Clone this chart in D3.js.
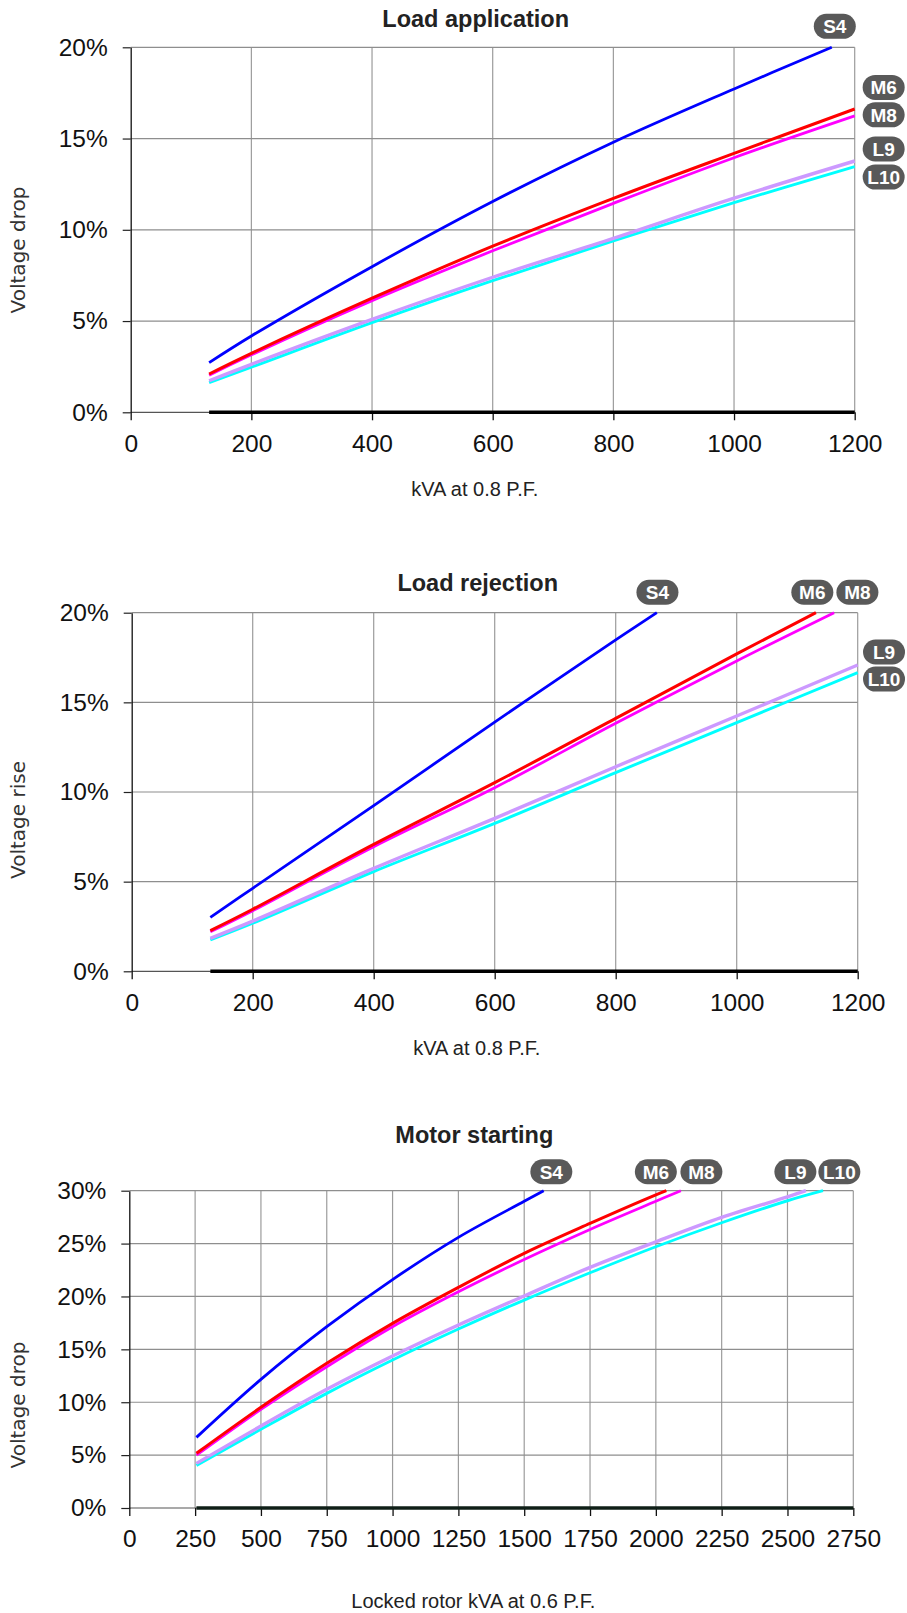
<!DOCTYPE html>
<html>
<head>
<meta charset="utf-8">
<script src="https://cdn.jsdelivr.net/npm/d3@7"></script>
<style>
  html, body { margin: 0; padding: 0; background: #ffffff; }
  svg { display: block; }
</style>
</head>
<body>
<svg id="chart" width="907" height="1613"></svg>
<script>
// Generator frames and their curve colours
const seriesNames  = ["S4", "M6", "M8", "L9", "L10"];
const seriesColors = ["#0000ff", "#ff0000", "#ff00ff", "#cc99ff", "#00ffff"];
const seriesWidths = [2.8, 3.0, 2.8, 3.4, 2.9];

// Load application: voltage drop (%) against kVA at 0.8 P.F.
const appKva   = [130, 200, 400, 600, 800, 1000, 1200];
const appKvaS4 = [130, 200, 400, 600, 800, 1000, 1162];
const appS4  = [2.72, 4.18, 7.98, 11.55, 14.80, 17.72, 20.0];
const appM6  = [2.10, 3.23, 6.25, 9.10, 11.72, 14.19, 16.62];
const appM8  = [2.03, 3.15, 6.12, 8.85, 11.45, 13.95, 16.24];
const appL9  = [1.73, 2.63, 5.09, 7.40, 9.53, 11.73, 13.77];
const appL10 = [1.62, 2.47, 4.91, 7.21, 9.39, 11.49, 13.46];

// Load rejection: voltage rise (%) against kVA at 0.8 P.F.
const rejKva   = [130, 200, 400, 600, 800, 1000, 1200];
const rejKvaS4 = [130, 200, 400, 600, 800, 868];
const rejKvaM6 = [130, 200, 400, 600, 800, 1000, 1131];
const rejKvaM8 = [130, 200, 400, 600, 800, 1000, 1161];
const rejS4  = [3.01, 4.63, 9.24, 13.90, 18.48, 20.0];
const rejM6  = [2.27, 3.46, 7.08, 10.52, 14.11, 17.70, 20.0];
const rejM8  = [2.20, 3.38, 6.95, 10.24, 13.83, 17.31, 20.0];
const rejL9  = [1.84, 2.80, 5.74, 8.53, 11.41, 14.24, 17.08];
const rejL10 = [1.75, 2.68, 5.56, 8.25, 11.08, 13.87, 16.66];

// Motor starting: voltage drop (%) against locked rotor kVA at 0.6 P.F.
const motKvaS4  = [255, 500, 750, 1000, 1250, 1500, 1574];
const motKvaM6  = [255, 500, 750, 1000, 1250, 1500, 1750, 2000, 2040];
const motKvaM8  = [255, 500, 750, 1000, 1250, 1500, 1750, 2000, 2095];
const motKvaL9  = [255, 500, 750, 1000, 1250, 1500, 1750, 2000, 2250, 2500, 2570];
const motKvaL10 = [255, 500, 750, 1000, 1250, 1500, 1750, 2000, 2250, 2500, 2635];
const motS4  = [6.68, 12.16, 17.14, 21.60, 25.59, 29.00, 30.0];
const motM6  = [5.17, 9.52, 13.68, 17.46, 20.86, 24.07, 26.90, 29.60, 30.0];
const motM8  = [5.00, 9.33, 13.36, 17.14, 20.44, 23.50, 26.34, 29.00, 30.0];
const motL9  = [4.22, 7.75, 11.22, 14.37, 17.30, 20.05, 22.75, 25.17, 27.48, 29.42, 30.0];
const motL10 = [4.03, 7.44, 10.84, 13.99, 16.92, 19.66, 22.24, 24.70, 26.97, 29.05, 30.0];

// Axis ticks
const appXTicks = [0, 200, 400, 600, 800, 1000, 1200];
const rejXTicks = [0, 200, 400, 600, 800, 1000, 1200];
const motXTicks = [0, 250, 500, 750, 1000, 1250, 1500, 1750, 2000, 2250, 2500, 2750];
const pctTicks20 = [0, 5, 10, 15, 20];
const pctTicks30 = [0, 5, 10, 15, 20, 25, 30];

// Zero reference line extent for each panel
const appZeroKva = [130, 1200];
const rejZeroKva = [130, 1200];
const motZeroKva = [255, 2750];

const zip = (xs, ys) => xs.map((v, i) => [v, ys[i]]);

const panels = [
  {
    title: "Load application", yTitle: "Voltage drop", xTitle: "kVA at 0.8 P.F.",
    box: { left: 130.7, right: 854.7, top: 47.3, bottom: 412.3 },
    titleY: 27, xTitleY: 496, yTitleCY: 250,
    xTicks: appXTicks, yTicks: pctTicks20,
    zero: appZeroKva, zeroColor: "#000000",
    series: [
      zip(appKvaS4, appS4), zip(appKva, appM6), zip(appKva, appM8),
      zip(appKva, appL9), zip(appKva, appL10)
    ],
    // badge anchors in data units (kVA, %)
    badges: [[1167, 21.15], [1248, 17.8], [1248, 16.3], [1248, 14.43], [1248, 12.89]]
  },
  {
    title: "Load rejection", yTitle: "Voltage rise", xTitle: "kVA at 0.8 P.F.",
    box: { left: 131.7, right: 857.7, top: 612.7, bottom: 971.3 },
    titleY: 591, xTitleY: 1055, yTitleCY: 820,
    xTicks: rejXTicks, yTicks: pctTicks20,
    zero: rejZeroKva, zeroColor: "#000000",
    series: [
      zip(rejKvaS4, rejS4), zip(rejKvaM6, rejM6), zip(rejKvaM8, rejM8),
      zip(rejKva, rejL9), zip(rejKva, rejL10)
    ],
    badges: [[869, 21.14], [1125, 21.14], [1199.5, 21.14], [1243.5, 17.81], [1243.5, 16.3]]
  },
  {
    title: "Motor starting", yTitle: "Voltage drop", xTitle: "Locked rotor kVA at 0.6 P.F.",
    box: { left: 129.3, right: 853.3, top: 1190.7, bottom: 1508 },
    titleY: 1143, xTitleY: 1608, yTitleCY: 1405,
    xTicks: motXTicks, yTicks: pctTicks30,
    zero: motZeroKva, zeroColor: "#0f1f17",
    series: [
      zip(motKvaS4, motS4), zip(motKvaM6, motM6), zip(motKvaM8, motM8),
      zip(motKvaL9, motL9), zip(motKvaL10, motL10)
    ],
    badges: [[1603, 31.79], [2000, 31.79], [2173, 31.79], [2530, 31.79], [2697, 31.79]]
  }
];

const svg = d3.select("#chart");
const sansFont = "'Liberation Sans', Arial, Helvetica, sans-serif";

panels.forEach(p => {
  const xMax = d3.max(p.xTicks), yMax = d3.max(p.yTicks);
  const x = d3.scaleLinear().domain([0, xMax]).range([p.box.left, p.box.right]);
  const y = d3.scaleLinear().domain([0, yMax]).range([p.box.bottom, p.box.top]);
  const g = svg.append("g");

  // vertical grid
  g.append("g").selectAll("line")
    .data(p.xTicks.filter(d => d > 0)).join("line")
    .attr("x1", d => x(d)).attr("x2", d => x(d))
    .attr("y1", y(yMax)).attr("y2", y(0))
    .attr("stroke", "#9c9c9c").attr("stroke-width", 1.2);

  // horizontal grid
  g.append("g").selectAll("line")
    .data(p.yTicks).join("line")
    .attr("x1", x(0)).attr("x2", x(xMax))
    .attr("y1", d => y(d)).attr("y2", d => y(d))
    .attr("stroke", d => d === 0 ? "#555555" : "#8e8e8e").attr("stroke-width", 1.2);

  // y axis
  const yAxis = d3.axisLeft(y).tickValues(p.yTicks).tickSize(8).tickSizeOuter(0)
    .tickPadding(15).tickFormat(d => d + "%");
  const ya = g.append("g").attr("transform", `translate(${p.box.left},0)`).call(yAxis);
  ya.select(".domain").attr("stroke", "#111").attr("stroke-width", 1.3);
  ya.selectAll(".tick line").attr("stroke", "#222").attr("stroke-width", 1.2);
  ya.selectAll(".tick text").style("font-family", sansFont).style("font-size", "24.5px").attr("fill", "#111");

  // x axis
  const xAxis = d3.axisBottom(x).tickValues(p.xTicks).tickSize(8).tickSizeOuter(0)
    .tickPadding(14).tickFormat(d => d);
  const xa = g.append("g").attr("transform", `translate(0,${p.box.bottom})`).call(xAxis);
  xa.select(".domain").remove();
  xa.selectAll(".tick line").attr("stroke", "#111").attr("stroke-width", 1.3);
  xa.selectAll(".tick text").style("font-family", sansFont).style("font-size", "24.5px").attr("fill", "#111");

  // zero reference line
  g.append("line")
    .attr("x1", x(p.zero[0])).attr("x2", x(p.zero[1]))
    .attr("y1", y(0)).attr("y2", y(0))
    .attr("stroke", p.zeroColor).attr("stroke-width", 3.6);

  // curves, drawn from the back (L10) to the front (S4)
  const line = d3.line().x(d => x(d[0])).y(d => y(d[1])).curve(d3.curveCatmullRom.alpha(0.5));
  d3.range(seriesNames.length).reverse().forEach(i => {
    g.append("path")
      .attr("d", line(p.series[i]))
      .attr("fill", "none")
      .attr("stroke", seriesColors[i])
      .attr("stroke-width", seriesWidths[i])
      .attr("stroke-linejoin", "round");
  });

  // frame badges
  const badge = g.append("g").selectAll("g")
    .data(p.badges.map((b, i) => ({ name: seriesNames[i], kva: b[0], pct: b[1] })))
    .join("g")
    .attr("transform", d => `translate(${x(d.kva)},${y(d.pct)})`);
  badge.append("rect")
    .attr("x", -21).attr("y", -12.5).attr("width", 42).attr("height", 25)
    .attr("rx", 12.5).attr("ry", 12.5).attr("fill", "#595959");
  badge.append("text")
    .text(d => d.name)
    .attr("text-anchor", "middle").attr("dy", "0.36em")
    .style("font-family", sansFont).style("font-size", "19px").style("font-weight", "bold")
    .attr("fill", "#ffffff");

  // chart title
  g.append("text")
    .attr("x", (p.box.left + p.box.right) / 2 - 17).attr("y", p.titleY)
    .attr("text-anchor", "middle")
    .style("font-family", sansFont).style("font-size", "23.5px").style("font-weight", "bold")
    .attr("fill", "#222")
    .text(p.title);

  // x axis title
  g.append("text")
    .attr("x", (p.box.left + p.box.right) / 2 - 18).attr("y", p.xTitleY)
    .attr("text-anchor", "middle")
    .style("font-family", sansFont).style("font-size", "20px")
    .attr("fill", "#222")
    .text(p.xTitle);

  // y axis title
  g.append("text")
    .attr("transform", `translate(25,${p.yTitleCY}) rotate(-90)`)
    .attr("text-anchor", "middle")
    .style("font-family", "'DejaVu Sans', Verdana, sans-serif").style("font-size", "20px")
    .attr("fill", "#333")
    .text(p.yTitle);
});
</script>
</body>
</html>
